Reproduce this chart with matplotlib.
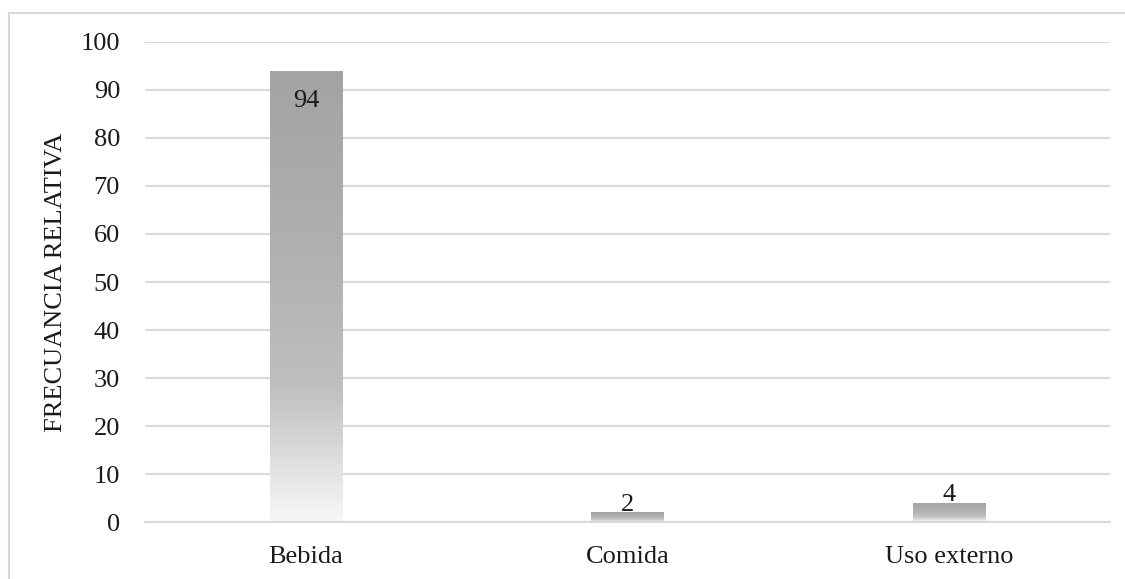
import numpy as np
import matplotlib
matplotlib.use('Agg')
import matplotlib.pyplot as plt
from matplotlib.colors import LinearSegmentedColormap
from matplotlib.lines import Line2D

# Data
categories = ['Bebida', 'Comida', 'Uso externo']
values = [94, 2, 4]
y_ticks = [0, 10, 20, 30, 40, 50, 60, 70, 80, 90, 100]

plt.rcParams['font.family'] = ['Liberation Serif', 'DejaVu Serif']

GRID = '#d9d9d9'
FS = 19

# gray fill fading to white towards the base of each bar
grad = LinearSegmentedColormap.from_list('bar_grad', [
    (0.0, (0.97, 0.97, 0.97)),
    (0.1, (0.90, 0.90, 0.90)),
    (0.2, (0.82, 0.82, 0.82)),
    (0.3, (0.75, 0.75, 0.75)),
    (0.6, (0.69, 0.69, 0.69)),
    (1.0, (0.64, 0.64, 0.64)),
])

fig = plt.figure(figsize=(11.25, 5.79), dpi=100)
ax = fig.add_axes([0.1289, 0.0984, 0.8578, 0.8291])

x = np.arange(len(categories))
bars = ax.bar(x, values, width=0.224, color='none', edgecolor='none', zorder=2)

ramp = np.linspace(0, 1, 256).reshape(-1, 1)
for b in bars:
    x0, w, h = b.get_x(), b.get_width(), b.get_height()
    im = ax.imshow(ramp, cmap=grad, origin='lower', aspect='auto',
                   extent=(x0, x0 + w, 0, h), zorder=2, interpolation='bicubic')
    im.set_clip_path(b)

# value labels
for xi, v in zip(x, values):
    if v > 20:
        ax.text(xi, v - 4.0, str(v), ha='center', va='top', fontsize=FS, color='#1a1a1a', zorder=3)
    else:
        ax.text(xi, v + 0.4, str(v), ha='center', va='baseline', fontsize=FS, color='#1a1a1a', zorder=3)

ax.set_xlim(-0.5, len(categories) - 0.5)
ax.set_ylim(0, 100)
ax.set_yticks(y_ticks)
ax.set_xticks(x)
ax.set_xticklabels(categories)
ax.tick_params(axis='both', length=0, labelsize=FS, colors='#1a1a1a')
ax.tick_params(axis='y', pad=18)
ax.tick_params(axis='x', pad=17)

ax.yaxis.grid(True, color=GRID, linewidth=1.5, zorder=0)
ax.set_axisbelow(True)
for s in ['top', 'right', 'left']:
    ax.spines[s].set_visible(False)
ax.spines['bottom'].set_color(GRID)
ax.spines['bottom'].set_linewidth(1.5)

ax.set_ylabel('FRECUANCIA RELATIVA', fontsize=FS, color='#1a1a1a', labelpad=10)

# chart area border
fx0 = 8.5 / 1125
fy1 = 1 - 12.5 / 579
fig.add_artist(Line2D([fx0, fx0], [0, fy1], transform=fig.transFigure, color=GRID, lw=1.5))
fig.add_artist(Line2D([fx0, 1], [fy1, fy1], transform=fig.transFigure, color=GRID, lw=1.5))

fig.savefig('out.png', dpi=100, facecolor='white')
